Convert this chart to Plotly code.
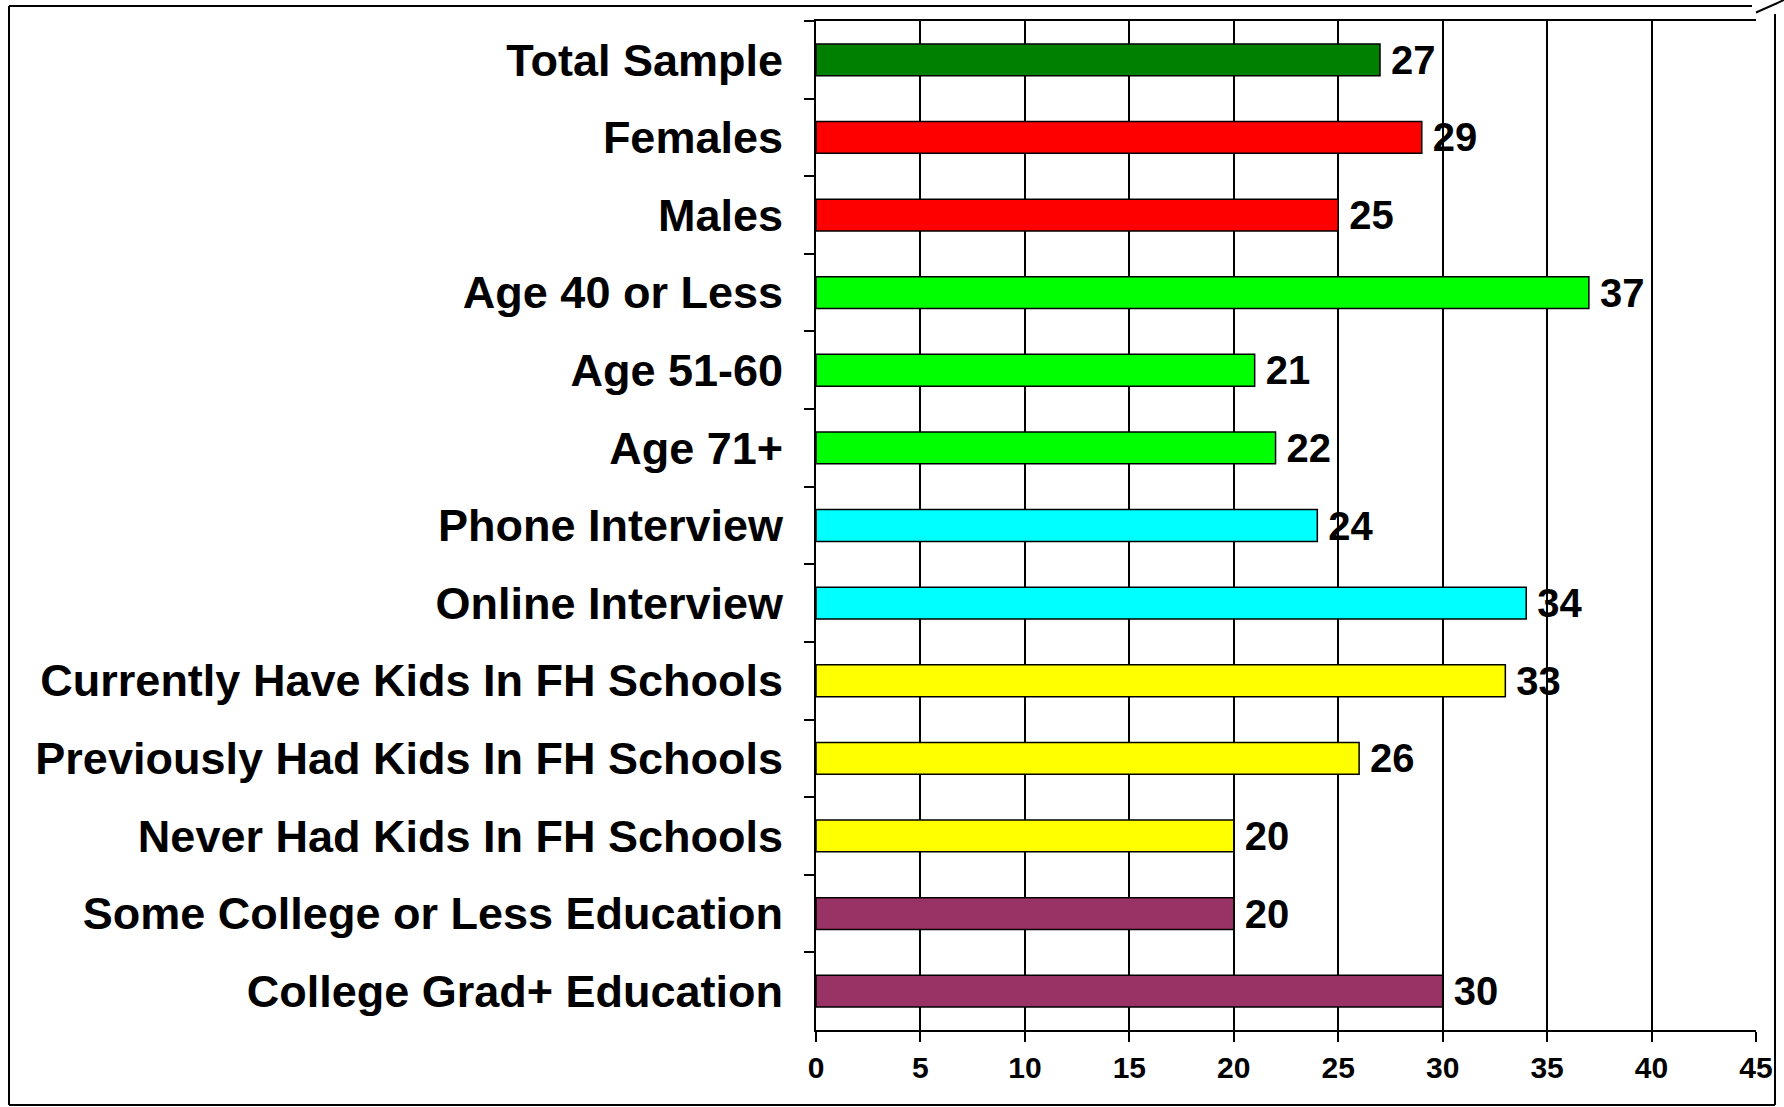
import plotly.graph_objects as go

# Chart data
categories = ['Total Sample', 'Females', 'Males', 'Age 40 or Less', 'Age 51-60', 'Age 71+',
              'Phone Interview', 'Online Interview', 'Currently Have Kids In FH Schools',
              'Previously Had Kids In FH Schools', 'Never Had Kids In FH Schools',
              'Some College or Less Education', 'College Grad+ Education']
values = [27, 29, 25, 37, 21, 22, 24, 34, 33, 26, 20, 20, 30]
bar_colors = ['#008000', '#FF0000', '#FF0000', '#00FF00', '#00FF00', '#00FF00',
              '#00FFFF', '#00FFFF', '#FFFF00', '#FFFF00', '#FFFF00', '#993366', '#993366']
x_ticks = [0, 5, 10, 15, 20, 25, 30, 35, 40, 45]

# Page / plot geometry (pixels)
W, H = 1784, 1107
PL, PR, PT, PB = 816, 1756, 21, 1030


def px(x):
    return (x - PL) / (PR - PL)


def py(y):
    return (PB - y) / (PB - PT)


font_family = 'Liberation Sans, Arial, sans-serif'

fig = go.Figure()
fig.add_trace(go.Bar(
    y=categories, x=values, orientation='h',
    marker=dict(color=bar_colors, line=dict(color='black', width=1.5)),
    text=[f'\u2009{v}' for v in values], textposition='outside', constraintext='none',
    cliponaxis=False,
    textfont=dict(family=font_family, size=40, color='black', weight='bold'),
    showlegend=False,
))

# Outer frame with the curled top-right corner
frame = [
    (9, 6, 9, 1105),
    (9, 1105, 1775, 1105),
    (1775, 14, 1775, 1105),
    (9, 6, 1752, 6),
    (1756, 12.5, 1784, 0),
]
shapes = [dict(type='line', xref='paper', yref='paper',
               x0=px(a), y0=py(b), x1=px(c), y1=py(d),
               line=dict(color='black', width=2)) for a, b, c, d in frame]

fig.update_layout(
    width=W, height=H,
    margin=dict(l=PL, r=W - PR, t=PT, b=H - PB),
    paper_bgcolor='white', plot_bgcolor='white',
    bargap=0.59,
    shapes=shapes,
    font=dict(family=font_family, color='black'),
    xaxis=dict(range=[0, 45], tickvals=x_ticks, showgrid=True, gridcolor='black', gridwidth=2,
               showline=True, linecolor='black', linewidth=2, mirror=True,
               ticks='outside', ticklen=10, tickwidth=2, tickcolor='black',
               tickfont=dict(size=30, weight='bold'), zeroline=False),
    yaxis=dict(autorange='reversed', showgrid=False, showline=True, linecolor='black', linewidth=2,
               ticks='outside', tickson='boundaries', ticklen=10, tickwidth=2, tickcolor='black',
               ticklabelstandoff=22, tickfont=dict(size=45, weight='bold')),
)

# drop the default page margin so the figure fills the window exactly
fig.write_html('out.html', config={'displayModeBar': False},
               post_script="document.body.style.margin='0';document.body.style.overflow='hidden';")
